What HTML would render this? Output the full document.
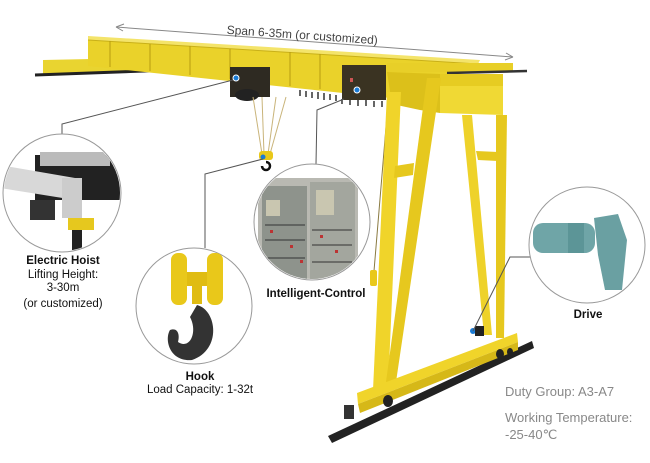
<!DOCTYPE html>
<html><head><style>
html,body{margin:0;padding:0;background:#fff;}
svg{display:block;font-family:"Liberation Sans",sans-serif;}
</style></head><body>
<svg width="650" height="463" viewBox="0 0 650 463" xmlns="http://www.w3.org/2000/svg">
<rect width="650" height="463" fill="#fff"/>
<!-- span arrow -->
<line x1="116" y1="27" x2="513" y2="57" stroke="#888" stroke-width="1"/>
<path d="M116 27 l8 -3 M116 27 l7 4" stroke="#888" fill="none"/>
<path d="M513 57 l-8 3 M513 57 l-7 -4" stroke="#888" fill="none"/>
<text x="302" y="39" font-size="12" fill="#444" text-anchor="middle" transform="rotate(4 302 39)">Span 6-35m  (or customized)</text>
<!-- left rail extension -->
<polygon points="43,60 143,58 145,70 43,74" fill="#e9d430"/>
<line x1="35" y1="75" x2="173" y2="70" stroke="#222" stroke-width="3"/>
<!-- main beam -->
<polygon points="88,36 480,60 478,64 88,40" fill="#f4e46a"/>
<polygon points="88,40 478,64 478,72 400,80 390,98 88,66" fill="#ead22a"/>
<line x1="88" y1="40" x2="478" y2="64" stroke="#c9b018" stroke-width="1"/>
<g stroke="#b89c10" stroke-width="1">
<line x1="110" y1="41" x2="110" y2="67"/><line x1="150" y1="44" x2="150" y2="71"/><line x1="190" y1="46" x2="190" y2="75"/><line x1="230" y1="49" x2="230" y2="79"/><line x1="290" y1="52" x2="290" y2="86"/><line x1="320" y1="54" x2="320" y2="89"/>
</g>
<!-- right end structure -->
<polygon points="387,63 513,63 513,72 387,72" fill="#e8cf28"/>
<line x1="447" y1="73" x2="527" y2="71" stroke="#333" stroke-width="2.5"/>
<polygon points="440,86 503,86 503,115 440,113" fill="#f0d934"/>
<polygon points="387,72 440,74 440,113 420,110 392,104" fill="#dcc01a"/>
<polygon points="440,74 503,74 503,86 440,86" fill="#e6cc22"/>
<!-- comb teeth -->
<g stroke="#333" stroke-width="1.5">
<line x1="300" y1="90" x2="300" y2="96"/><line x1="306" y1="91" x2="306" y2="97"/><line x1="312" y1="92" x2="312" y2="98"/><line x1="318" y1="92" x2="318" y2="99"/><line x1="324" y1="93" x2="324" y2="100"/><line x1="330" y1="94" x2="330" y2="100"/><line x1="336" y1="95" x2="336" y2="101"/><line x1="342" y1="99" x2="342" y2="104"/><line x1="350" y1="99" x2="350" y2="105"/><line x1="358" y1="100" x2="358" y2="106"/><line x1="366" y1="100" x2="366" y2="106"/><line x1="374" y1="101" x2="374" y2="107"/><line x1="382" y1="101" x2="382" y2="107"/>
</g>
<!-- hoist -->
<rect x="230" y="67" width="40" height="30" fill="#2e2a22"/>
<ellipse cx="247" cy="95" rx="12" ry="6" fill="#222"/>
<circle cx="236" cy="78" r="3" fill="#1a7bd6" stroke="#fff" stroke-width="1"/>
<!-- control box -->
<rect x="342" y="65" width="44" height="35" fill="#3a3322"/>
<rect x="350" y="78" width="3" height="4" fill="#c55"/>
<circle cx="357" cy="90" r="3" fill="#1a7bd6" stroke="#fff" stroke-width="1"/>
<!-- ropes -->
<g stroke="#c9b47a" stroke-width="1">
<line x1="253" y1="97" x2="262" y2="154"/><line x1="262" y1="97" x2="264" y2="154"/><line x1="276" y1="97" x2="268" y2="154"/><line x1="286" y1="97" x2="270" y2="154"/>
</g>
<rect x="259" y="151" width="14" height="9" rx="3" fill="#e9c81a"/>
<circle cx="263" cy="157" r="2.5" fill="#1a7bd6"/>
<path d="M266 162 a4 4 0 1 1 -4 4" stroke="#111" stroke-width="2.5" fill="none"/>
<!-- pendant -->
<line x1="388" y1="103" x2="374" y2="271" stroke="#8a7a40" stroke-width="1"/>
<rect x="370" y="270" width="7" height="16" rx="2" fill="#e9c81a"/>
<!-- legs -->
<polygon points="387,92 401,92 388,390 373,390" fill="#f0d42a"/>
<polygon points="427,78 441,78 396,382 386,382" fill="#e6c81e"/>
<polygon points="462,115 472,115 492,335 484,335" fill="#eed22a"/>
<polygon points="496,115 507,115 504,338 496,338" fill="#e6c81e"/>
<polygon points="395,166 414,163 413,175 394,178" fill="#e6c81e"/>
<polygon points="476,151 498,152 498,161 478,160" fill="#e6c81e"/>
<!-- ground rail -->
<polygon points="328,436 532,341 534,348 332,443" fill="#222"/>
<!-- lower beam -->
<polygon points="357,393 517,333 518,342 358,404" fill="#f0d42a"/>
<polygon points="358,404 518,342 518,350 360,413" fill="#d6b818"/>
<ellipse cx="388" cy="401" rx="5" ry="6" fill="#222"/>
<ellipse cx="500" cy="354" rx="4" ry="5" fill="#222"/>
<ellipse cx="510" cy="352" rx="3" ry="4" fill="#222"/>
<rect x="344" y="405" width="10" height="14" fill="#333"/>
<circle cx="473" cy="331" r="3" fill="#1a7bd6"/>
<rect x="475" y="326" width="9" height="10" fill="#222"/>
<!-- leader lines -->
<g stroke="#555" stroke-width="1" fill="none">
<polyline points="233,80 62,124 62,135"/>
<polyline points="263,159 205,174 205,248"/>
<polyline points="344,99 317,110 316,164"/>
<polyline points="473,331 510,257 530,257"/>
</g>
<!-- circles -->
<circle cx="62" cy="193" r="59" fill="#fff" stroke="#999" stroke-width="1"/>
<circle cx="194" cy="306" r="58" fill="#fff" stroke="#999" stroke-width="1"/>
<circle cx="312" cy="222" r="58" fill="#fff" stroke="#999" stroke-width="1"/>
<circle cx="587" cy="245" r="58" fill="#fff" stroke="#999" stroke-width="1"/>
<!-- hoist detail -->
<clipPath id="c1"><circle cx="62" cy="193" r="58"/></clipPath>
<g clip-path="url(#c1)">
<rect x="35" y="155" width="85" height="45" fill="#222"/>
<polygon points="0,165 75,178 75,200 0,188" fill="#d8d8d8"/>
<rect x="40" y="152" width="70" height="14" fill="#bbb"/>
<rect x="62" y="178" width="20" height="40" fill="#ccc"/>
<rect x="30" y="200" width="25" height="20" fill="#333"/>
<rect x="68" y="218" width="26" height="12" fill="#e6c81e"/>
<rect x="72" y="230" width="10" height="25" fill="#222"/>
</g>
<!-- hook detail -->
<rect x="171" y="253" width="16" height="52" rx="7" fill="#e9c81a"/>
<rect x="207" y="253" width="16" height="52" rx="7" fill="#e9c81a"/>
<rect x="187" y="272" width="20" height="14" fill="#e0bc12"/>
<rect x="192" y="284" width="10" height="20" fill="#e0bc12"/>
<path d="M197 305 c20 5 25 45 -5 55 c-22 2 -28 -20 -22 -30 c8 -3 10 5 8 12 c12 8 20 -10 12 -25 z" fill="#333"/>
<!-- control detail -->
<clipPath id="c2"><circle cx="312" cy="222" r="57"/></clipPath>
<g clip-path="url(#c2)">
<rect x="258" y="178" width="100" height="110" fill="#b9b9b2"/>
<rect x="262" y="186" width="45" height="95" fill="#8e938c"/>
<rect x="310" y="182" width="45" height="100" fill="#a3a69e"/>
<rect x="316" y="190" width="18" height="25" fill="#c9c6b0"/>
<rect x="266" y="200" width="14" height="16" fill="#c9c6b0"/>
<g fill="#b33"><rect x="270" y="230" width="3" height="3"/><rect x="290" y="245" width="3" height="3"/><rect x="320" y="235" width="3" height="3"/><rect x="335" y="250" width="3" height="3"/><rect x="300" y="260" width="3" height="3"/></g>
<g stroke="#333" stroke-width="1"><line x1="265" y1="225" x2="305" y2="225"/><line x1="265" y1="240" x2="305" y2="240"/><line x1="312" y1="230" x2="352" y2="230"/><line x1="312" y1="245" x2="352" y2="245"/><line x1="265" y1="258" x2="305" y2="258"/><line x1="312" y1="262" x2="352" y2="262"/></g>
</g>
<!-- drive detail -->
<rect x="533" y="223" width="62" height="30" rx="10" fill="#6fa5a7"/>
<rect x="568" y="223" width="16" height="30" fill="#5c9597"/>
<polygon points="594,218 618,214 627,240 622,290 605,290 598,255" fill="#6aa0a2"/>
<!-- labels -->
<g font-size="11.5" fill="#111" text-anchor="middle">
<text x="63" y="264" font-weight="bold">Electric Hoist</text>
<text x="63" y="278">Lifting Height:</text>
<text x="63" y="291">3-30m</text>
<text x="63" y="307">(or customized)</text>
<text x="200" y="380" font-weight="bold">Hook</text>
<text x="200" y="393">Load Capacity: 1-32t</text>
<text x="316" y="297" font-weight="bold">Intelligent-Control</text>
<text x="588" y="318" font-weight="bold">Drive</text>
</g>
<g font-size="13" fill="#888">
<text x="505" y="396">Duty Group: A3-A7</text>
<text x="505" y="422">Working Temperature:</text>
<text x="505" y="439">-25-40℃</text>
</g>
</svg>
</body></html>
